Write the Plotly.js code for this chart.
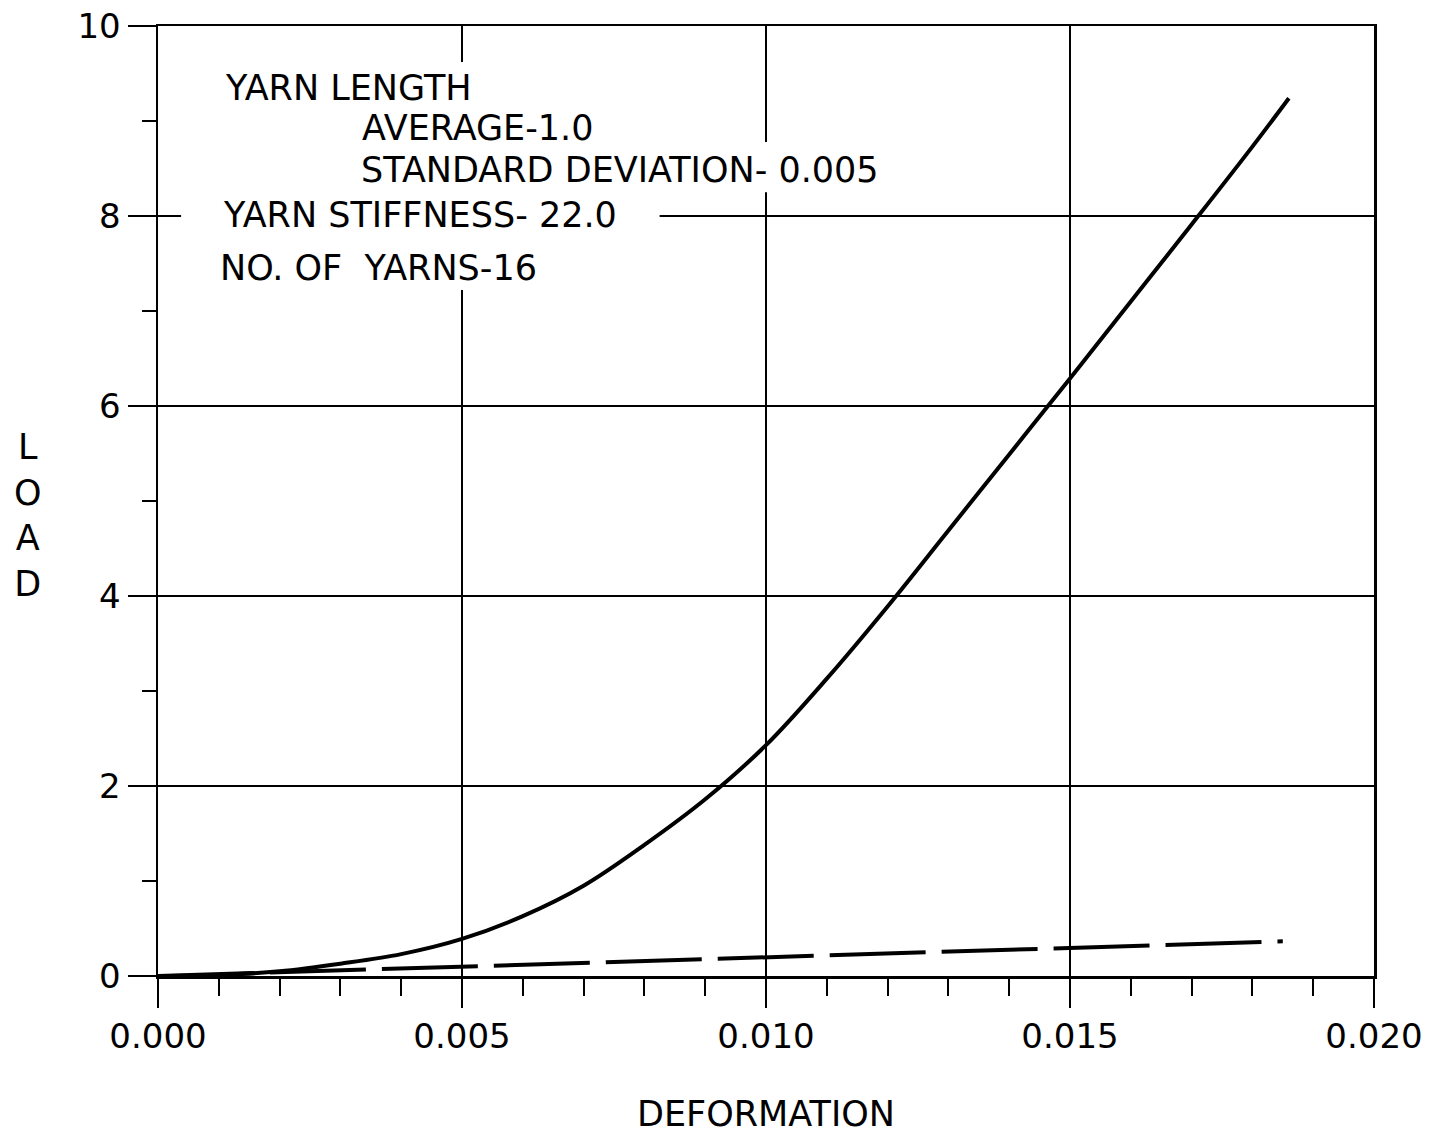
<!DOCTYPE html>
<html>
<head>
<meta charset="utf-8">
<script src="https://cdn.plot.ly/plotly-3.0.1.min.js"></script>
<style>html,body{margin:0;padding:0;background:#fff;}</style>
</head>
<body>
<div id="chart" style="width:1443px;height:1136px;"></div>
<script>
// Solid curve: load vs deformation
const deformationSolid = [0, 0.001, 0.002, 0.003, 0.004, 0.005, 0.006, 0.007, 0.008, 0.009, 0.010, 0.011, 0.012, 0.013, 0.014, 0.015, 0.016, 0.017, 0.018, 0.0186];
const loadSolid = [0, 0.01, 0.05, 0.13, 0.23, 0.39, 0.63, 0.95, 1.38, 1.86, 2.43, 3.13, 3.89, 4.69, 5.49, 6.29, 7.10, 7.91, 8.73, 9.24];
// Dashed curve
const deformationDashed = [0, 0.002, 0.004, 0.006, 0.008, 0.010, 0.012, 0.014, 0.016, 0.0185];
const loadDashed = [0, 0.04, 0.08, 0.12, 0.16, 0.20, 0.24, 0.28, 0.32, 0.365];
// Tick values
const xTicks = [0, 0.005, 0.010, 0.015, 0.020];
const xTickLabels = ["0.000", "0.005", "0.010", "0.015", "0.020"];
const yTicks = [0, 2, 4, 6, 8, 10];
const yTickLabels = ["0", "2", "4", "6", "8", "10"];
// Text
const infoLines = ["YARN LENGTH", "AVERAGE-1.0", "STANDARD DEVIATION- 0.005", "YARN STIFFNESS- 22.0", "NO. OF  YARNS-16"];
const xTitle = "DEFORMATION";
const yTitle = "L<br>O<br>A<br>D";

const FONT = "DejaVu Sans, sans-serif";

const traces = [
  {x: deformationSolid, y: loadSolid, type: "scatter", mode: "lines",
   line: {color: "#000", width: 4, shape: "spline", smoothing: 1}, hoverinfo: "skip", showlegend: false},
  {x: deformationDashed, y: loadDashed, type: "scatter", mode: "lines",
   line: {color: "#000", width: 4, dash: "96px,16px"}, hoverinfo: "skip", showlegend: false}
];

const infoPos = [
  {x: 0.00107, y: 9.35},
  {x: 0.00333, y: 8.93},
  {x: 0.0033, y: 8.48},
  {x: 0.00104, y: 8.01},
  {x: 0.00099, y: 7.45}
];

const annotations = infoLines.map((t, i) => ({
  text: t, x: infoPos[i].x, y: infoPos[i].y, xref: "x", yref: "y",
  xanchor: "left", yanchor: "middle", showarrow: false,
  font: {family: FONT, size: 35, color: "#000"}
}));
annotations.push({
  text: yTitle, xref: "paper", yref: "paper", x: -0.107, y: 0.485,
  xanchor: "center", yanchor: "middle", showarrow: false, align: "center",
  font: {family: FONT, size: 35, color: "#000"}
});

const layout = {
  width: 1443, height: 1136,
  margin: {l: 158, r: 69, t: 26, b: 160},
  paper_bgcolor: "#fff", plot_bgcolor: "#fff",
  font: {family: FONT, color: "#000"},
  xaxis: {
    range: [0, 0.020], tickvals: xTicks, ticktext: xTickLabels,
    ticks: "outside", ticklen: 29, tickwidth: 2, tickcolor: "#000",
    showgrid: true, gridcolor: "#000", gridwidth: 2,
    showline: true, linecolor: "#000", linewidth: 2.5, mirror: true,
    zeroline: false, tickfont: {family: FONT, size: 34, color: "#000"},
    minor: {dtick: 0.001, tick0: 0, ticks: "outside", ticklen: 17, tickwidth: 2, tickcolor: "#000", showgrid: false},
    title: {text: xTitle, font: {family: FONT, size: 35, color: "#000"}, standoff: 46},
    fixedrange: true
  },
  yaxis: {
    range: [0, 10], tickvals: yTicks, ticktext: yTickLabels,
    ticks: "outside", ticklen: 28, tickwidth: 2, tickcolor: "#000",
    showgrid: true, gridcolor: "#000", gridwidth: 2,
    showline: true, linecolor: "#000", linewidth: 2.5, mirror: true,
    zeroline: false, tickfont: {family: FONT, size: 34, color: "#000"},
    minor: {dtick: 1, tick0: 1, ticks: "outside", ticklen: 14, tickwidth: 2, tickcolor: "#000", showgrid: false},
    fixedrange: true
  },
  shapes: [
    {type: "rect", xref: "x", yref: "y", x0: 0.00038, x1: 0.00825, y0: 7.22, y1: 9.62,
     fillcolor: "#fff", line: {width: 0}, layer: "between"},
    {type: "rect", xref: "x", yref: "y", x0: 0.00038, x1: 0.01274, y0: 8.25, y1: 8.78,
     fillcolor: "#fff", line: {width: 0}, layer: "between"}
  ],
  annotations: annotations,
  showlegend: false
};

Plotly.newPlot("chart", traces, layout, {displayModeBar: false, staticPlot: true});
</script>
</body>
</html>
